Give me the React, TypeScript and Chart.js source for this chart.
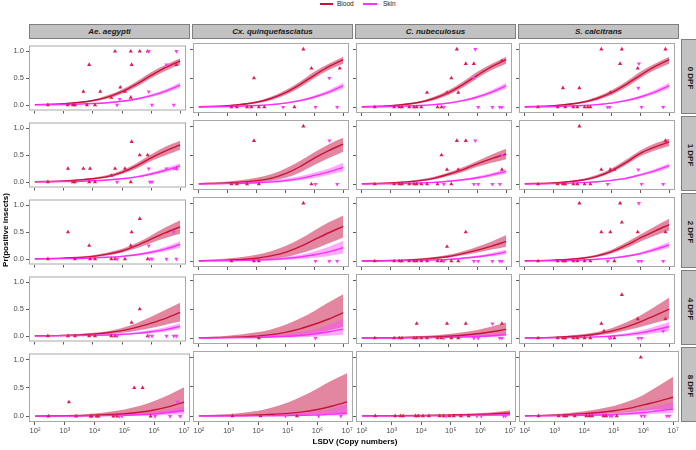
import React, { useEffect, useRef } from 'react';
import { Chart, registerables } from 'chart.js';
Chart.register(...registerables);

// ---------------- data ----------------
const SPECIES = ['Ae. aegypti', 'Cx. quinquefasciatus', 'C. nubeculosus', 'S. calcitrans'];
const DPF = ['0 DPF', '1 DPF', '2 DPF', '4 DPF', '8 DPF'];
const SERIES = ['Blood', 'Skin'];
const X_TICKS = [1e2, 1e3, 1e4, 1e5, 1e6, 1e7];
const X_TICK_LABELS = ['10²', '10³', '10⁴', '10⁵', '10⁶', '10⁷'];
const Y_TICKS = [0, 0.5, 1];
const Y_TICK_LABELS = ['0.0', '0.5', '1.0'];
const X_TITLE = 'LSDV (Copy numbers)';
const Y_TITLE = 'Pr(positive insects)';

// log10(copy number) at which fitted curves / bands were read
const CURVE_LOG10 = [2, 3, 4, 4.5, 5, 5.5, 6, 6.5, 7];

// fitted curves per DPF row, one array per species
const BLOOD_FIT_0 = [
  [.007, .024, .083, .148, .25, .39, .55, .70, .82],
  [.007, .024, .083, .148, .25, .39, .55, .70, .82],
  [.007, .024, .083, .148, .25, .39, .55, .70, .82],
  [.007, .024, .083, .148, .25, .39, .55, .70, .82],
];
const BLOOD_LO_0 = [
  [.004, .016, .065, .12, .21, .34, .50, .64, .75],
  [.004, .016, .065, .12, .21, .34, .50, .64, .75],
  [.004, .016, .065, .12, .21, .34, .50, .64, .75],
  [.004, .016, .065, .12, .21, .34, .50, .64, .75],
];
const BLOOD_HI_0 = [
  [.011, .034, .10, .18, .29, .44, .61, .75, .87],
  [.011, .034, .10, .18, .29, .44, .61, .75, .87],
  [.011, .034, .10, .18, .29, .44, .61, .75, .87],
  [.011, .034, .10, .18, .29, .44, .61, .75, .87],
];
const SKIN_FIT_0 = [
  [.003, .010, .027, .043, .069, .112, .175, .26, .37],
  [.003, .010, .027, .043, .069, .112, .175, .26, .37],
  [.003, .010, .027, .043, .069, .112, .175, .26, .37],
  [.003, .010, .027, .043, .069, .112, .175, .26, .37],
];
const SKIN_LO_0 = [
  [.002, .007, .021, .035, .058, .095, .15, .225, .32],
  [.002, .007, .021, .035, .058, .095, .15, .225, .32],
  [.002, .007, .021, .035, .058, .095, .15, .225, .32],
  [.002, .007, .021, .035, .058, .095, .15, .225, .32],
];
const SKIN_HI_0 = [
  [.005, .014, .034, .053, .082, .13, .20, .295, .42],
  [.005, .014, .034, .053, .082, .13, .20, .295, .42],
  [.005, .014, .034, .053, .082, .13, .20, .295, .42],
  [.005, .014, .034, .053, .082, .13, .20, .295, .42],
];

const BLOOD_FIT_1 = [
  [.006, .02, .06, .10, .18, .30, .45, .58, .69],
  [.006, .02, .06, .10, .18, .30, .45, .58, .69],
  [.005, .02, .06, .10, .17, .25, .35, .44, .52],
  [.006, .02, .07, .13, .23, .37, .53, .64, .73],
];
const BLOOD_LO_1 = [
  [.003, .013, .045, .08, .15, .25, .39, .50, .60],
  [.002, .008, .03, .06, .11, .20, .33, .45, .56],
  [.002, .012, .045, .08, .14, .21, .30, .37, .43],
  [.004, .014, .055, .105, .20, .33, .48, .58, .66],
];
const BLOOD_HI_1 = [
  [.01, .03, .08, .13, .22, .35, .51, .66, .77],
  [.015, .045, .11, .17, .27, .40, .55, .69, .80],
  [.01, .03, .08, .125, .20, .29, .40, .51, .61],
  [.01, .03, .09, .16, .27, .42, .58, .70, .79],
];
const SKIN_FIT_1 = [
  [.003, .009, .024, .038, .06, .095, .15, .22, .30],
  [.003, .009, .024, .038, .06, .095, .15, .21, .29],
  [.002, .007, .02, .03, .05, .075, .11, .16, .22],
  [.003, .009, .025, .04, .065, .10, .16, .23, .32],
];
const SKIN_LO_1 = [
  [.002, .006, .018, .03, .05, .08, .125, .185, .26],
  [.001, .004, .012, .022, .038, .065, .105, .16, .22],
  [.001, .004, .014, .023, .04, .06, .09, .13, .18],
  [.002, .006, .019, .032, .055, .085, .14, .20, .28],
];
const SKIN_HI_1 = [
  [.005, .013, .031, .048, .073, .113, .175, .26, .35],
  [.007, .018, .045, .065, .095, .135, .20, .27, .37],
  [.004, .011, .027, .04, .063, .09, .135, .19, .26],
  [.005, .013, .032, .05, .077, .118, .18, .26, .36],
];

const BLOOD_FIT_2 = [
  [.005, .017, .05, .09, .15, .25, .37, .49, .60],
  [.005, .017, .05, .09, .15, .25, .37, .49, .60],
  [.003, .01, .03, .05, .08, .13, .19, .26, .34],
  [.005, .017, .05, .09, .16, .27, .40, .52, .63],
];
const BLOOD_LO_2 = [
  [.003, .01, .035, .065, .12, .20, .30, .39, .47],
  [.001, .006, .02, .04, .07, .13, .21, .31, .41],
  [.001, .006, .02, .035, .06, .10, .15, .20, .25],
  [.003, .011, .038, .07, .13, .22, .34, .44, .53],
];
const BLOOD_HI_2 = [
  [.01, .028, .07, .12, .19, .30, .44, .59, .72],
  [.02, .045, .11, .17, .26, .38, .53, .67, .79],
  [.006, .017, .045, .07, .11, .17, .25, .34, .45],
  [.009, .026, .068, .115, .195, .32, .46, .60, .73],
];
const SKIN_FIT_2 = [
  [.002, .007, .02, .032, .05, .08, .125, .19, .27],
  [.002, .006, .017, .028, .045, .07, .11, .16, .23],
  [.001, .004, .012, .02, .03, .05, .075, .11, .16],
  [.002, .007, .02, .033, .052, .083, .13, .20, .28],
];
const SKIN_LO_2 = [
  [.001, .004, .013, .023, .038, .063, .10, .15, .21],
  [0, .002, .007, .012, .022, .037, .06, .09, .13],
  [0, .002, .008, .014, .022, .038, .058, .085, .12],
  [.001, .004, .014, .025, .042, .068, .11, .165, .23],
];
const SKIN_HI_2 = [
  [.004, .012, .03, .045, .066, .10, .155, .23, .33],
  [.006, .015, .035, .05, .075, .11, .17, .25, .35],
  [.002, .007, .017, .027, .04, .065, .095, .14, .20],
  [.004, .011, .028, .043, .065, .10, .155, .235, .33],
];

const BLOOD_FIT_3 = [
  [.004, .012, .035, .06, .10, .16, .24, .33, .44],
  [.004, .012, .035, .06, .10, .16, .24, .33, .44],
  [.002, .006, .015, .022, .033, .05, .075, .11, .15],
  [.004, .013, .04, .07, .12, .19, .28, .39, .50],
];
const BLOOD_LO_3 = [
  [.002, .006, .02, .035, .06, .10, .15, .21, .27],
  [.001, .003, .01, .018, .03, .05, .08, .13, .19],
  [0, .002, .006, .009, .014, .02, .03, .045, .06],
  [.002, .007, .025, .045, .08, .13, .19, .26, .33],
];
const BLOOD_HI_3 = [
  [.008, .022, .06, .09, .15, .24, .36, .49, .62],
  [.015, .04, .10, .15, .23, .34, .47, .62, .76],
  [.005, .015, .035, .05, .07, .10, .14, .20, .27],
  [.008, .025, .065, .105, .17, .27, .39, .54, .70],
];
const SKIN_FIT_3 = [
  [.001, .004, .012, .02, .032, .05, .08, .12, .18],
  [.001, .004, .011, .018, .029, .045, .07, .11, .16],
  [.001, .002, .005, .008, .012, .018, .028, .04, .06],
  [.001, .004, .013, .022, .035, .055, .09, .14, .20],
];
const SKIN_LO_3 = [
  [0, .002, .007, .012, .02, .033, .055, .085, .13],
  [0, .001, .003, .005, .009, .015, .025, .04, .06],
  [0, .001, .002, .004, .006, .009, .014, .02, .03],
  [0, .002, .007, .012, .02, .033, .055, .085, .12],
];
const SKIN_HI_3 = [
  [.003, .008, .02, .03, .048, .073, .11, .165, .24],
  [.005, .013, .03, .045, .065, .10, .15, .23, .33],
  [.002, .005, .01, .015, .022, .033, .05, .07, .10],
  [.003, .008, .022, .035, .055, .085, .13, .20, .28],
];

const BLOOD_FIT_4 = [
  [.002, .006, .018, .03, .045, .07, .11, .17, .25],
  [.002, .006, .018, .03, .045, .07, .11, .17, .24],
  [.003, .005, .009, .012, .016, .021, .028, .038, .05],
  [.004, .012, .04, .06, .09, .13, .19, .25, .32],
];
const BLOOD_LO_4 = [
  [0, .002, .006, .01, .016, .025, .04, .06, .08],
  [0, .001, .003, .006, .01, .016, .025, .038, .05],
  [.001, .002, .004, .005, .007, .009, .012, .016, .02],
  [.001, .005, .02, .03, .045, .065, .09, .11, .13],
];
const BLOOD_HI_4 = [
  [.008, .02, .05, .08, .12, .18, .27, .38, .51],
  [.012, .035, .09, .15, .23, .34, .47, .61, .73],
  [.006, .01, .017, .022, .029, .038, .05, .07, .10],
  [.01, .03, .08, .12, .17, .25, .36, .51, .67],
];
const SKIN_FIT_4 = [
  [.001, .002, .006, .01, .016, .026, .04, .065, .10],
  [0, .001, .003, .005, .008, .013, .02, .032, .05],
  [.001, .002, .003, .004, .006, .008, .011, .015, .02],
  [.001, .004, .012, .018, .027, .04, .06, .09, .12],
];
const SKIN_LO_4 = [
  [0, .001, .002, .004, .006, .01, .016, .025, .035],
  [0, 0, .001, .001, .002, .003, .005, .008, .012],
  [0, .001, .001, .002, .002, .003, .004, .005, .007],
  [0, .002, .005, .008, .012, .018, .027, .038, .05],
];
const SKIN_HI_4 = [
  [.002, .005, .013, .02, .032, .05, .075, .115, .17],
  [.002, .006, .015, .023, .035, .055, .08, .13, .20],
  [.002, .004, .006, .008, .011, .015, .02, .028, .04],
  [.003, .009, .025, .035, .05, .075, .11, .17, .24],
];

// observed points: [log10(copy number), proportion positive]
const BLOOD_PTS_0 = [
  [[2.45, 0], [3.13, 0], [3.31, 0], [3.38, 0], [3.79, 0], [4.07, 0], [3.87, .75], [3.67, .25], [4.25, .25], [4.76, 1], [4.63, .14], [4.94, .33], [5.1, .25], [5.3, 1], [5.33, .75], [5.3, .14], [5.61, 1], [5.88, 1], [6.87, .75]],
  [[3.13, 0], [3.32, 0], [3.67, 0], [3.82, 0], [3.91, .5], [4.08, 0], [4.27, 0], [5.31, 0], [5.62, 1], [5.9, .67], [6.88, .67]],
  [[2.45, 0], [3.12, 0], [3.3, 0], [3.39, 0], [3.64, 0], [3.81, 0], [3.9, 0], [4.06, 0], [4.26, .25], [4.62, 0], [4.76, 0], [4.95, .25], [5.1, .5], [5.29, 1], [5.34, .25], [5.6, .75], [5.88, .75], [6.85, .8]],
  [[2.46, 0], [3.14, 0], [3.4, 0], [3.68, 0], [3.82, 0], [4.07, 0], [4.18, 0], [4.27, 0], [3.32, .33], [3.89, .33], [4.65, 1], [4.96, .25], [5.3, .75], [5.36, 1], [5.91, .67], [6.87, 1]],
];
const SKIN_PTS_0 = [
  [[4.83, 0], [4.92, .11], [5.92, 1], [5.92, .25], [6.03, 0], [6.53, .75], [6.78, 0], [6.87, 1]],
  [[4.92, 0], [6.04, 0], [6.52, .5], [6.79, 0]],
  [[4.84, 0], [5.93, 1], [5.88, .5], [6.03, 0], [6.52, 0], [6.78, 0], [6.85, 0]],
  [[4.87, 0], [4.94, 0], [5.95, .75], [5.93, .33], [6.04, 0], [6.79, 0]],
];
const BLOOD_PTS_1 = [
  [[2.45, 0], [3.14, .25], [3.31, 0], [3.38, 0], [3.67, .25], [3.9, .25], [3.87, 0], [4.07, 0], [4.63, .12], [4.76, .25], [5.1, .25], [5.3, 0], [5.33, .75], [5.61, .5], [5.88, .5], [6.87, .25]],
  [[3.13, 0], [3.32, 0], [3.67, 0], [3.91, .75], [4.08, 0], [5.62, 1], [5.9, 0]],
  [[2.45, 0], [3.12, 0], [3.3, 0], [3.39, 0], [3.64, 0], [3.81, 0], [3.9, 0], [4.06, 0], [4.26, 0], [4.62, 0], [4.76, .5], [4.95, .25], [5.1, 0], [5.29, .75], [5.34, .25], [5.6, .75], [6.85, .25]],
  [[2.46, 0], [3.14, 0], [3.32, 0], [3.4, 0], [3.68, 0], [3.82, 0], [4.07, 0], [4.27, 0], [3.89, 1], [4.65, .25], [4.96, .25], [5.1, .25], [6.87, .75]],
];
const SKIN_PTS_1 = [
  [[4.83, 0], [5.92, .25], [5.96, 0], [6.03, 0], [6.53, .25], [6.78, .25], [6.87, .25]],
  [[6.04, 0], [6.52, .75], [6.79, 0]],
  [[4.84, 0], [5.88, 0], [6.03, 0], [5.93, .75], [6.52, 0], [6.78, 0], [6.85, .5]],
  [[4.87, 0], [5.93, .25], [6.04, 0], [6.79, 0]],
];
const BLOOD_PTS_2 = [
  [[2.45, 0], [3.14, .5], [3.38, 0], [3.87, .25], [3.9, 0], [4.07, 0], [4.63, 0], [4.76, 0], [5.1, 0], [5.33, .5], [5.3, .25], [5.61, .75], [5.88, 0]],
  [[3.13, 0], [3.91, 0], [4.08, 0], [5.62, 1]],
  [[2.45, 0], [3.12, 0], [3.3, 0], [3.39, 0], [3.64, 0], [3.81, 0], [3.9, 0], [4.06, 0], [4.26, 0], [4.62, 0], [4.76, 0], [4.95, .25], [5.1, 0], [5.34, 0], [5.6, .5]],
  [[2.46, 0], [3.14, 0], [3.32, 0], [3.4, 0], [3.68, 0], [3.82, 0], [4.07, 0], [4.27, 0], [3.89, 1], [4.65, .5], [4.96, .5], [5.1, 0], [5.3, 1], [5.36, .67], [5.91, .5], [6.87, .5]],
];
const SKIN_PTS_2 = [
  [[4.83, 0], [5.92, .25], [5.95, 0], [6.03, 0], [6.53, 0], [6.87, 0], [6.78, .5]],
  [[6.04, 0], [6.52, 0], [6.79, 0]],
  [[4.84, 0], [5.88, 0], [6.03, 0], [6.52, 0], [6.78, 0], [6.85, 0]],
  [[4.87, 0], [5.95, 1], [5.93, 0], [6.04, 0], [6.79, 0]],
];
const BLOOD_PTS_3 = [
  [[2.45, 0], [3.14, 0], [3.38, 0], [3.87, 0], [4.07, 0], [4.63, 0], [4.76, 0], [5.33, .25], [5.61, .5], [5.88, 0]],
  [[4.08, 0]],
  [[2.45, 0], [3.12, 0], [3.3, 0], [3.39, 0], [3.81, 0], [3.9, .25], [3.9, 0], [4.06, 0], [4.26, 0], [4.62, 0], [4.76, 0], [4.95, .25], [5.1, 0], [5.34, 0], [5.6, .25], [6.85, .25]],
  [[2.46, 0], [3.14, 0], [3.32, 0], [3.4, 0], [3.68, 0], [3.82, 0], [4.07, 0], [4.27, 0], [4.65, .25], [4.74, .12], [4.96, 0], [5.1, 0], [5.36, .75], [5.91, .33], [6.87, .33]],
];
const SKIN_PTS_3 = [
  [[4.83, 0], [5.92, 0], [6.03, 0], [6.53, 0], [6.78, 0], [6.87, 0]],
  [[6.04, 0]],
  [[4.84, 0], [5.88, 0], [6.03, 0], [6.52, .25], [6.78, 0], [6.85, 0]],
  [[4.94, 0], [5.93, 0], [6.04, 0], [6.79, .12]],
];
const BLOOD_PTS_4 = [
  [[2.45, 0], [3.14, .25], [3.38, 0], [3.87, 0], [3.9, 0], [4.07, 0], [4.13, 0], [4.63, 0], [4.76, 0], [5.33, .5], [5.61, .5], [5.88, 0]],
  [[3.13, 0], [4.08, 0], [5.31, 0]],
  [[2.45, 0], [3.12, 0], [3.3, 0], [3.39, 0], [3.81, 0], [3.9, 0], [4.06, 0], [4.26, 0], [4.62, 0], [4.76, 0], [4.95, 0], [5.1, 0], [5.34, 0], [5.6, 0]],
  [[2.46, 0], [3.14, 0], [3.32, 0], [3.4, 0], [3.68, 0], [4.07, 0], [4.18, 0], [4.27, 0], [4.65, 0], [4.74, 0], [5.1, 0], [5.91, 1]],
];
const SKIN_PTS_4 = [
  [[4.83, 0], [4.92, 0], [6.03, 0], [6.53, 0], [6.87, 0], [6.78, .25]],
  [[4.92, 0], [6.04, 0], [6.79, 0]],
  [[4.84, 0], [5.88, 0], [6.03, 0], [6.78, 0], [6.85, 0]],
  [[4.87, 0], [4.94, 0], [5.93, 0], [6.04, 0], [6.79, 0], [6.87, 0]],
];

const BLOOD_FIT = [BLOOD_FIT_0, BLOOD_FIT_1, BLOOD_FIT_2, BLOOD_FIT_3, BLOOD_FIT_4];
const BLOOD_LO = [BLOOD_LO_0, BLOOD_LO_1, BLOOD_LO_2, BLOOD_LO_3, BLOOD_LO_4];
const BLOOD_HI = [BLOOD_HI_0, BLOOD_HI_1, BLOOD_HI_2, BLOOD_HI_3, BLOOD_HI_4];
const SKIN_FIT = [SKIN_FIT_0, SKIN_FIT_1, SKIN_FIT_2, SKIN_FIT_3, SKIN_FIT_4];
const SKIN_LO = [SKIN_LO_0, SKIN_LO_1, SKIN_LO_2, SKIN_LO_3, SKIN_LO_4];
const SKIN_HI = [SKIN_HI_0, SKIN_HI_1, SKIN_HI_2, SKIN_HI_3, SKIN_HI_4];
const BLOOD_PTS = [BLOOD_PTS_0, BLOOD_PTS_1, BLOOD_PTS_2, BLOOD_PTS_3, BLOOD_PTS_4];
const SKIN_PTS = [SKIN_PTS_0, SKIN_PTS_1, SKIN_PTS_2, SKIN_PTS_3, SKIN_PTS_4];

// ---------------- style / layout ----------------
const FONT = "'Liberation Sans', Arial, Helvetica, sans-serif";
const BLOOD_LINE = '#C8123C';
const BLOOD_BAND = 'rgba(200,25,70,0.52)';
const BLOOD_PT = '#DC1E55';
const SKIN_LINE = '#FF2EFF';
const SKIN_BAND = 'rgba(255,70,255,0.45)';
const SKIN_PT = '#FF3CFF';
const STRIP_BG = '#C2C2C2';
const STRIP_BORDER = '#7F7F7F';
const PANEL_BORDER = '#A8A8A8';
const TICK_COLOR = '#333333';
const TEXT_COLOR = '#4D4D4D';

const COL_LEFT = [29, 192, 355, 518];
const PANEL_W = 161;
const ROW_TOP = [39, 116, 193, 270, 347];
const PANEL_H = 75;
const TICK_LEN = 3;
const X_MIN = Math.pow(10, 1.8);
const X_MAX = Math.pow(10, 7.2);
const Y_MIN = -0.102;
const Y_MAX = 1.108;

const borderPlugin = {
  id: 'panelBorder',
  afterDatasetsDraw(chart: any) {
    const { ctx, chartArea } = chart;
    const { left, top, right, bottom } = chartArea;
    ctx.save();
    ctx.strokeStyle = PANEL_BORDER;
    ctx.lineWidth = 1;
    ctx.strokeRect(left + 0.5, top + 0.5, right - left - 1, bottom - top - 1);
    ctx.restore();
  },
};

function Panel({ r, c }: { r: number; c: number }) {
  const ref = useRef<HTMLCanvasElement>(null);
  const last = r === DPF.length - 1;
  const axL = c === 0 ? COL_LEFT[0] : TICK_LEN;
  const axB = last ? 30 : TICK_LEN;
  const padR = last ? 8 : 0;
  const w = axL + PANEL_W + padR;
  const h = PANEL_H + axB;

  useEffect(() => {
    if (!ref.current) return;
    const curve = (ys: number[]) => CURVE_LOG10.map((L, i) => ({ x: Math.pow(10, L), y: ys[i] }));
    const pts = (p: number[][]) => p.map(([L, y]) => ({ x: Math.pow(10, L), y }));
    const smooth = { pointRadius: 0, cubicInterpolationMode: 'monotone' as const };
    const datasets: any[] = [
      { ...smooth, label: SERIES[0] + ' lo', data: curve(BLOOD_LO[r][c]), borderColor: 'transparent', borderWidth: 0, fill: false, order: 10 },
      { ...smooth, label: SERIES[0] + ' hi', data: curve(BLOOD_HI[r][c]), borderColor: 'transparent', borderWidth: 0, fill: 0, backgroundColor: BLOOD_BAND, order: 10 },
      { ...smooth, label: SERIES[1] + ' lo', data: curve(SKIN_LO[r][c]), borderColor: 'transparent', borderWidth: 0, fill: false, order: 9 },
      { ...smooth, label: SERIES[1] + ' hi', data: curve(SKIN_HI[r][c]), borderColor: 'transparent', borderWidth: 0, fill: 2, backgroundColor: SKIN_BAND, order: 9 },
      { ...smooth, label: SERIES[0], data: curve(BLOOD_FIT[r][c]), borderColor: BLOOD_LINE, borderWidth: 1.4, fill: false, order: 8 },
      { ...smooth, label: SERIES[1], data: curve(SKIN_FIT[r][c]), borderColor: SKIN_LINE, borderWidth: 1.4, fill: false, order: 7 },
      { label: SERIES[0] + ' obs', data: pts(BLOOD_PTS[r][c]), showLine: false, pointStyle: 'triangle', pointRadius: 2.4, pointBorderWidth: 0, pointBackgroundColor: BLOOD_PT, borderColor: BLOOD_PT, backgroundColor: BLOOD_PT, order: 6 },
      { label: SERIES[1] + ' obs', data: pts(SKIN_PTS[r][c]), showLine: false, pointStyle: 'triangle', pointRotation: 180, pointRadius: 2.4, pointBorderWidth: 0, pointBackgroundColor: SKIN_PT, borderColor: SKIN_PT, backgroundColor: SKIN_PT, order: 5 },
    ];
    const chart = new Chart(ref.current, {
      type: 'line',
      data: { datasets },
      plugins: [borderPlugin],
      options: {
        animation: false,
        responsive: false,
        devicePixelRatio: 1,
        layout: { padding: { left: 0, right: padR, top: 0, bottom: 0 } },
        plugins: { legend: { display: false }, tooltip: { enabled: false } },
        events: [],
        scales: {
          x: {
            type: 'logarithmic',
            min: X_MIN,
            max: X_MAX,
            afterBuildTicks: (s: any) => { s.ticks = X_TICKS.map((v) => ({ value: v })); },
            afterFit: (s: any) => { s.height = axB; },
            ticks: {
              display: last,
              autoSkip: false,
              maxRotation: 0,
              padding: 1,
              color: TEXT_COLOR,
              font: { family: FONT, size: 7.5 },
              callback: (_v: any, i: number) => X_TICK_LABELS[i],
            },
            grid: { drawOnChartArea: false, drawTicks: true, tickLength: TICK_LEN, color: TICK_COLOR, lineWidth: 0.8 },
            border: { display: false },
          },
          y: {
            type: 'linear',
            min: Y_MIN,
            max: Y_MAX,
            afterBuildTicks: (s: any) => { s.ticks = Y_TICKS.map((v) => ({ value: v })); },
            afterFit: (s: any) => { s.width = axL; },
            ticks: {
              display: c === 0,
              padding: 2,
              color: TEXT_COLOR,
              font: { family: FONT, size: 7.5 },
              callback: (_v: any, i: number) => Y_TICK_LABELS[i],
            },
            grid: { drawOnChartArea: false, drawTicks: true, tickLength: TICK_LEN, color: TICK_COLOR, lineWidth: 0.8 },
            border: { display: false },
          },
        },
      } as any,
    });
    return () => chart.destroy();
  }, [r, c]);

  return (
    <canvas
      ref={ref}
      width={w}
      height={h}
      style={{ position: 'absolute', left: COL_LEFT[c] - axL, top: ROW_TOP[r], width: w, height: h }}
    />
  );
}

export default function App() {
  const lastBottom = ROW_TOP[DPF.length - 1] + PANEL_H;
  return (
    <div style={{ position: 'fixed', left: 0, top: 0, width: 696, height: 450, background: '#fff', overflow: 'hidden', fontFamily: FONT }}>
      {/* legend */}
      <div style={{ position: 'absolute', left: 320, top: 3, width: 13, height: 2, background: BLOOD_LINE }} />
      <div style={{ position: 'absolute', left: 337, top: 0, fontSize: 6.5, lineHeight: '8px', color: '#1a1a1a' }}>{SERIES[0]}</div>
      <div style={{ position: 'absolute', left: 363, top: 3, width: 14, height: 2, background: SKIN_LINE }} />
      <div style={{ position: 'absolute', left: 383, top: 0, fontSize: 6.5, lineHeight: '8px', color: '#1a1a1a' }}>{SERIES[1]}</div>

      {/* column strips */}
      {SPECIES.map((s, c) => (
        <div key={s} style={{ position: 'absolute', left: COL_LEFT[c], top: 24, width: PANEL_W, height: 15, boxSizing: 'border-box', background: STRIP_BG, border: `1px solid ${STRIP_BORDER}`, display: 'flex', alignItems: 'center', justifyContent: 'center', fontSize: 8, fontWeight: 'bold', fontStyle: 'italic', color: '#1a1a1a', whiteSpace: 'nowrap' }}>{s}</div>
      ))}

      {/* row strips */}
      {DPF.map((d, r) => (
        <div key={d} style={{ position: 'absolute', left: 681, top: ROW_TOP[r], width: 18, height: PANEL_H, boxSizing: 'border-box', background: STRIP_BG, border: `1px solid ${STRIP_BORDER}` }}>
          <div style={{ position: 'absolute', left: 8, top: PANEL_H / 2, transform: 'translate(-50%,-50%) rotate(90deg)', fontSize: 8, fontWeight: 'bold', color: '#1a1a1a', whiteSpace: 'nowrap' }}>{d}</div>
        </div>
      ))}

      {/* panels */}
      {DPF.map((_d, r) => SPECIES.map((_s, c) => <Panel key={`${r}-${c}`} r={r} c={c} />))}

      {/* axis titles */}
      <div style={{ position: 'absolute', left: 6 - 60, top: 230 - 6, width: 120, height: 12, lineHeight: '12px', textAlign: 'center', transform: 'rotate(-90deg)', fontSize: 8, fontWeight: 'bold', color: '#000', whiteSpace: 'nowrap' }}>{Y_TITLE}</div>
      <div style={{ position: 'absolute', left: 355 - 100, top: lastBottom + 14, width: 200, height: 12, lineHeight: '12px', textAlign: 'center', fontSize: 8, fontWeight: 'bold', color: '#000', whiteSpace: 'nowrap' }}>{X_TITLE}</div>
    </div>
  );
}
